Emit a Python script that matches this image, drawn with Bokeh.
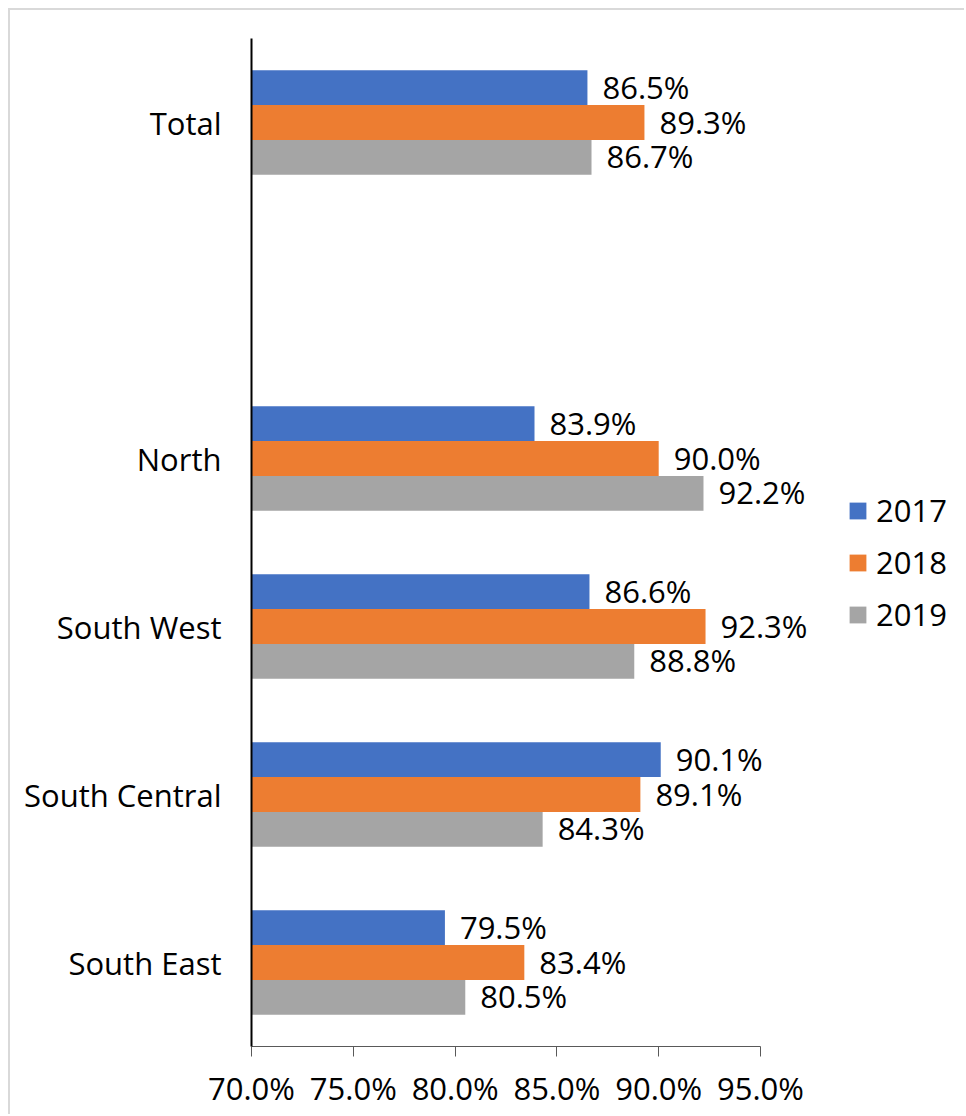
from bokeh.plotting import figure
from bokeh.models import (ColumnDataSource, Range1d, FixedTicker, PrintfTickFormatter,
                          Legend, LegendItem)
from bokeh.core.properties import value
from bokeh.embed import file_html
from bokeh.resources import INLINE

categories = ["Total", "", "North", "South West", "South Central", "South East"]
years = ["2017", "2018", "2019"]
v2017 = [86.5, None, 83.9, 86.6, 90.1, 79.5]
v2018 = [89.3, None, 90.0, 92.3, 89.1, 83.4]
v2019 = [86.7, None, 92.2, 88.8, 84.3, 80.5]
colors = ["#4472C4", "#ED7D31", "#A5A5A5"]
x_ticks = [70, 75, 80, 85, 90, 95]

FONT = "Open Sans"
FS = "31px"

p = figure(width=956, height=1106, output_backend="svg", toolbar_location=None,
           x_range=Range1d(70, 70 + 715 / 20.36), y_range=Range1d(len(categories), 0),
           min_border_left=241, min_border_right=0, min_border_top=28, min_border_bottom=70)
p.outline_line_color = None
p.grid.visible = False
p.background_fill_color = "white"
p.border_fill_color = "white"

bar_h = 0.207
offsets = [-bar_h, 0.0, bar_h]
renderers = []
for yr, vals, col, off in zip(years, [v2017, v2018, v2019], colors, offsets):
    ys, xs, labs = [], [], []
    for i, v in enumerate(vals):
        if v is None:
            continue
        ys.append(i + 0.5 + off)
        xs.append(v)
        labs.append(f"{v:.1f}%")
    src = ColumnDataSource(dict(y=ys, x=xs, lab=labs))
    r = p.hbar(y="y", left=70, right="x", height=bar_h, source=src,
               fill_color=col, line_color=None)
    renderers.append(r)
    p.text(x="x", y="y", text="lab", source=src, x_offset=15, y_offset=-1,
           text_align="left", text_baseline="middle",
           text_font=value(FONT), text_font_size=FS, text_color="black")

# x axis
xa = p.xaxis[0]
xa.ticker = FixedTicker(ticks=x_ticks)
xa.bounds = (70, 95)
xa.formatter = PrintfTickFormatter(format="%.1f%%")
xa.major_label_text_font = FONT
xa.major_label_text_font_size = FS
xa.major_label_text_color = "black"
xa.axis_line_color = "#595959"
xa.major_tick_line_color = "#595959"
xa.major_tick_out = 10
xa.major_tick_in = 0
xa.minor_tick_line_color = None
xa.major_label_standoff = 10

# y axis
ya = p.yaxis[0]
tick_pos = [i + 0.5 for i, c in enumerate(categories) if c]
ya.ticker = FixedTicker(ticks=tick_pos)
ya.major_label_overrides = {i + 0.5: c for i, c in enumerate(categories) if c}
ya.major_label_text_font = FONT
ya.major_label_text_font_size = FS
ya.major_label_text_color = "black"
ya.axis_line_color = "black"
ya.axis_line_width = 2
ya.major_tick_line_color = None
ya.minor_tick_line_color = None
ya.major_label_standoff = 24

legend = Legend(items=[LegendItem(label=yr, renderers=[r]) for yr, r in zip(years, renderers)],
                location=(596, 411), orientation="vertical",
                glyph_width=21, glyph_height=21, label_standoff=8,
                label_text_font=FONT, label_text_font_size=FS, label_text_color="black",
                padding=0, margin=0, spacing=10, border_line_color=None,
                background_fill_alpha=0)
p.add_layout(legend)

p.styles = {"margin": "8px 0 0 8px",
            "border-top": "2px solid #d9d9d9", "border-left": "2px solid #d9d9d9"}

open("out.html", "w").write(file_html(p, INLINE))
